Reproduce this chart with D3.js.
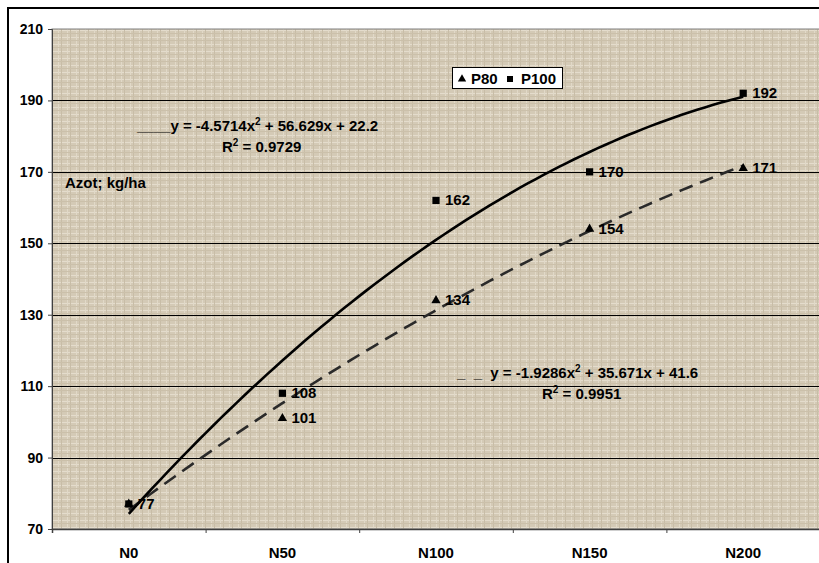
<!DOCTYPE html>
<meta charset="utf-8">

<!-- Load d3.js -->
<script src="https://d3js.org/d3.v7.min.js"></script>

<style>
    body {
        margin: 0;
        background: #fff;
        font-family: Arial, 'Liberation Sans', sans-serif;
    }
    text { font-weight: bold; fill: #000; white-space: pre; }
</style>

<div id="my_dataviz"></div>

<script>
    // data
    var categories = ["N0", "N50", "N100", "N150", "N200"];
    var p80 = [77, 101, 134, 154, 171];
    var p100 = [77, 108, 162, 170, 192];
    var yTicks = [70, 90, 110, 130, 150, 170, 190, 210];
    // trendline coefficients shown on the chart (a x^2 + b x + c)
    var fitP100 = [-4.5714, 56.629, 22.2];
    var fitP80 = [-1.9286, 35.671, 41.6];

    var W = 819, H = 563;
    var plot = {left: 52, top: 29, right: 820, bottom: 529};

    var svg = d3.select("#my_dataviz")
        .append("svg")
        .attr("width", W)
        .attr("height", H)
        .style("display", "block");

    // outer chart border (cut off at right and bottom)
    svg.append("rect")
        .attr("x", 8).attr("y", 8)
        .attr("width", W + 20).attr("height", H + 20)
        .attr("fill", "#fff")
        .attr("stroke", "#000")
        .attr("stroke-width", 2);

    // linen-like background
    var defs = svg.append("defs");
    var pat = defs.append("pattern")
        .attr("id", "linen")
        .attr("width", 9).attr("height", 7)
        .attr("patternUnits", "userSpaceOnUse");
    pat.append("rect").attr("width", 9).attr("height", 7).attr("fill", "#d4cab6");
    pat.append("rect").attr("x", 0).attr("y", 2).attr("width", 9).attr("height", 1).attr("fill", "#e4dccc");
    pat.append("rect").attr("x", 4).attr("y", 0).attr("width", 1).attr("height", 7).attr("fill", "#e1d9c8");
    pat.append("rect").attr("x", 7).attr("y", 0).attr("width", 1).attr("height", 7).attr("fill", "#c8bda7");
    pat.append("rect").attr("x", 0).attr("y", 5).attr("width", 9).attr("height", 1).attr("fill", "#cbc0aa");

    var x = d3.scaleLinear().domain([0.5, 5.5]).range([plot.left, plot.right]);
    var y = d3.scaleLinear().domain([70, 210]).range([plot.bottom, plot.top]);

    svg.append("rect")
        .attr("x", plot.left).attr("y", plot.top)
        .attr("width", plot.right - plot.left)
        .attr("height", plot.bottom - plot.top)
        .attr("fill", "url(#linen)")
        .attr("stroke", "#808080")
        .attr("stroke-width", 1);

    // gridlines
    svg.selectAll("line.grid")
        .data(yTicks.filter(function(d) { return d > 70 && d < 210; }))
        .enter().append("line")
        .attr("class", "grid")
        .attr("x1", plot.left).attr("x2", plot.right)
        .attr("y1", function(d) { return Math.round(y(d)) + 0.5; })
        .attr("y2", function(d) { return Math.round(y(d)) + 0.5; })
        .attr("stroke", "#000")
        .attr("stroke-width", 1);

    // y axis
    var yAxis = svg.append("g")
        .attr("transform", "translate(" + plot.left + ",0)")
        .call(d3.axisLeft(y).tickValues(yTicks).tickSize(4).tickPadding(5));
    yAxis.select(".domain").attr("stroke", "#404040");
    yAxis.selectAll(".tick line").attr("stroke", "#404040");
    yAxis.selectAll("text")
        .style("font-size", "14px")
        .style("font-family", "Arial, 'Liberation Sans', sans-serif")
        .style("font-weight", "bold")
        .attr("fill", "#000");

    // x axis: ticks between categories, labels at centres
    var xAxis = svg.append("g")
        .attr("transform", "translate(0," + plot.bottom + ")")
        .call(d3.axisBottom(x).tickValues([1.5, 2.5, 3.5, 4.5]).tickSize(4).tickFormat(""));
    xAxis.select(".domain").attr("stroke", "#404040").attr("stroke-width", 1.5);
    xAxis.selectAll(".tick line").attr("stroke", "#404040");

    svg.selectAll("text.xlab")
        .data(categories)
        .enter().append("text")
        .attr("class", "xlab")
        .attr("x", function(d, i) { return x(i + 1); })
        .attr("y", 558)
        .attr("text-anchor", "middle")
        .style("font-size", "15px")
        .text(function(d) { return d; });

    // trendlines
    function trend(c) {
        var pts = d3.range(1, 5.001, 0.05);
        return pts.map(function(t) { return [t, c[0] * t * t + c[1] * t + c[2]]; });
    }
    var line = d3.line()
        .x(function(d) { return x(d[0]); })
        .y(function(d) { return y(d[1]); });

    svg.append("path")
        .datum(trend(fitP80))
        .attr("d", line)
        .attr("fill", "none")
        .attr("stroke", "#2a2a2a")
        .attr("stroke-width", 2.6)
        .attr("stroke-dasharray", "14,8");

    svg.append("path")
        .datum(trend(fitP100))
        .attr("d", line)
        .attr("fill", "none")
        .attr("stroke", "#000")
        .attr("stroke-width", 2.6);

    // markers
    svg.selectAll("path.p80")
        .data(p80)
        .enter().append("path")
        .attr("class", "p80")
        .attr("d", d3.symbol().type(d3.symbolTriangle).size(38))
        .attr("transform", function(d, i) { return "translate(" + x(i + 1) + "," + y(d) + ")"; })
        .attr("fill", "#000");

    svg.selectAll("path.p100")
        .data(p100)
        .enter().append("path")
        .attr("class", "p100")
        .attr("d", d3.symbol().type(d3.symbolSquare).size(52))
        .attr("transform", function(d, i) { return "translate(" + x(i + 1) + "," + y(d) + ")"; })
        .attr("fill", "#000");

    // data labels (the N0 values coincide, one label shown)
    function labels(data, cls, skipFirst) {
        svg.selectAll("text." + cls)
            .data(data.map(function(d, i) { return {v: d, i: i}; })
                .filter(function(d) { return !(skipFirst && d.i === 0); }))
            .enter().append("text")
            .attr("class", cls)
            .attr("x", function(d) { return x(d.i + 1) + 9; })
            .attr("y", function(d) { return y(d.v) + 5; })
            .style("font-size", "15px")
            .text(function(d) { return d.v; });
    }
    labels(p80, "l80", true);
    labels(p100, "l100", false);

    // equations
    function equation(x1, x2, y1, dash, c, r2) {
        var t = svg.append("text")
            .attr("x", x1).attr("y", y1)
            .style("font-size", "15px");
        t.append("tspan").text(dash);
        t.append("tspan").text("y = " + c[0] + "x");
        t.append("tspan").attr("dy", -6).style("font-size", "10px").text("2");
        t.append("tspan").attr("dy", 6).text(" + " + c[1] + "x + " + c[2]);
        var r = svg.append("text")
            .attr("x", x2).attr("y", y1 + 21)
            .style("font-size", "15px");
        r.append("tspan").text("R");
        r.append("tspan").attr("dy", -6).style("font-size", "10px").text("2");
        r.append("tspan").attr("dy", 6).text(" = " + r2);
    }
    equation(137, 222, 131, "____", fitP100, "0.9729");
    equation(457, 542, 378, "_  _  ", fitP80, "0.9951");

    svg.append("text")
        .attr("x", 65).attr("y", 188)
        .style("font-size", "15px")
        .text("Azot; kg/ha");

    // legend
    var lg = svg.append("g");
    lg.append("rect")
        .attr("x", 452.5).attr("y", 67.5)
        .attr("width", 110).attr("height", 21)
        .attr("fill", "#fff")
        .attr("stroke", "#000");
    lg.append("path")
        .attr("d", d3.symbol().type(d3.symbolTriangle).size(30))
        .attr("transform", "translate(462,79)");
    lg.append("text").attr("x", 471).attr("y", 84).style("font-size", "15px").text("P80");
    lg.append("path")
        .attr("d", d3.symbol().type(d3.symbolSquare).size(36))
        .attr("transform", "translate(510,79)");
    lg.append("text").attr("x", 521).attr("y", 84).style("font-size", "15px").text("P100");
</script>
